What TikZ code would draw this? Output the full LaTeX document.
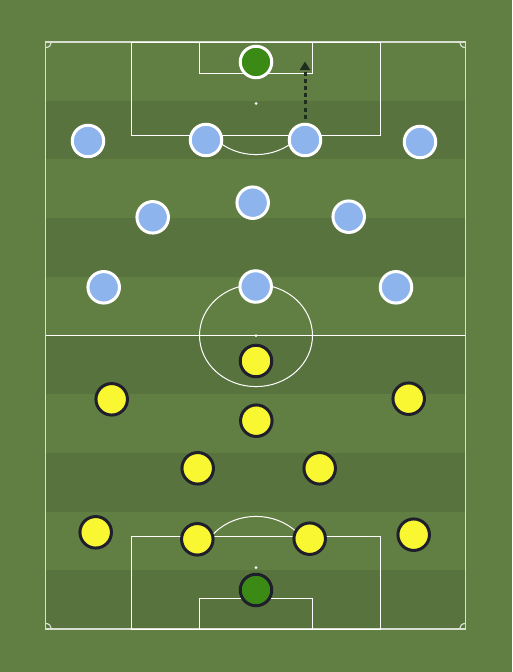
\documentclass[tikz,border=0pt]{standalone}
\usetikzlibrary{arrows.meta,shadows}
\definecolor{pitchlight}{HTML}{627F43}
\definecolor{pitchdark}{HTML}{58733E}
\definecolor{pblue}{HTML}{8DB4EC}
\definecolor{pyellow}{HTML}{F8F732}
\definecolor{pborder}{HTML}{1E1E2C}
\definecolor{pgreen}{HTML}{3B8A16}
\definecolor{arrowc}{HTML}{1F2D1C}
\begin{document}
\begin{tikzpicture}[x=1pt,y=-1pt,
 pline/.style={white, line width=1pt},
 outer/.style={white!75!pitchlight, line width=1.2pt},
 player/.style={circle, minimum size=31.5pt, inner sep=0pt, line width=3pt,
   drop shadow={opacity=0.22, shadow xshift=0.4pt, shadow yshift=-1.3pt}},
 blueplayer/.style={player, draw=white, fill=pblue},
 yellowplayer/.style={player, draw=pborder, fill=pyellow},
 bluekeeper/.style={player, draw=white, fill=pgreen},
 yellowkeeper/.style={player, draw=pborder, fill=pgreen},
 spot/.style={circle, fill=white, inner sep=0pt, minimum size=3pt},
 run/.style={arrowc, line width=3pt, dash pattern=on 4pt off 3.2pt,
   shorten <=4pt, -{Triangle[length=8.5pt,width=10pt]}}
]
\useasboundingbox (0,0) rectangle (512,672);
\fill[pitchlight] (0,0) rectangle (512,672);
\foreach \i in {1,3,5,7,9}
  \fill[pitchdark] (45.5,{42+\i*58.7}) rectangle (465.5,{42+(\i+1)*58.7});
% pitch markings
\draw[outer] (45.5,42) rectangle (465.5,629);
\draw[pline] (45.5,335.5) -- (465.5,335.5);
\draw[pline] (256,335.5) ellipse [x radius=56.5, y radius=51.1];
\draw[pline] (131,42) rectangle (380,135);
\draw[pline] (199,42) rectangle (312,73);
\draw[pline] (131,629) rectangle (380,536);
\draw[pline] (199,629) rectangle (312,598);
\begin{scope}
  \clip (100,135) rectangle (400,200);
  \draw[pline] (256,103.5) ellipse [x radius=56.5, y radius=51.1];
\end{scope}
\begin{scope}
  \clip (100,470) rectangle (400,536);
  \draw[pline] (256,567.5) ellipse [x radius=56.5, y radius=51.1];
\end{scope}
\begin{scope}
  \clip (45.5,42) rectangle (465.5,629);
  \foreach \cx/\cy in {45.5/42,465.5/42,45.5/629,465.5/629}
    \draw[outer] (\cx,\cy) ellipse [x radius=6, y radius=5.6];
\end{scope}
\node[spot] (centrespot) at (256,335.5) {};
\node[spot] (topspot) at (256,103.5) {};
\node[spot] (bottomspot) at (256,567.5) {};
% blue team
\node[bluekeeper] (bgk) at (256,62) {};
\node[blueplayer] (b1) at (88,141) {};
\node[blueplayer] (b2) at (206,140) {};
\node[blueplayer] (b3) at (305,140) {};
\node[blueplayer] (b4) at (420,142) {};
\node[blueplayer] (b5) at (152.7,217.3) {};
\node[blueplayer] (b6) at (252.7,202.7) {};
\node[blueplayer] (b7) at (348.7,216.7) {};
\node[blueplayer] (b8) at (103.7,287.3) {};
\node[blueplayer] (b9) at (255.7,286.5) {};
\node[blueplayer] (b10) at (396,287.3) {};
% yellow team
\node[yellowplayer] (y1) at (256,361) {};
\node[yellowplayer] (y2) at (111.7,399.3) {};
\node[yellowplayer] (y3) at (408.7,398.7) {};
\node[yellowplayer] (y4) at (256.3,420.7) {};
\node[yellowplayer] (y5) at (197.7,468.3) {};
\node[yellowplayer] (y6) at (319.7,468.3) {};
\node[yellowplayer] (y7) at (95.7,532.3) {};
\node[yellowplayer] (y8) at (197.3,539.3) {};
\node[yellowplayer] (y9) at (309.7,538.7) {};
\node[yellowplayer] (y10) at (413.7,534.7) {};
\node[yellowkeeper] (ygk) at (256,590) {};
% run arrow
\coordinate (runend) at (305,61.5);
\draw[run] (b3.north) -- (runend);
\end{tikzpicture}
\end{document}
